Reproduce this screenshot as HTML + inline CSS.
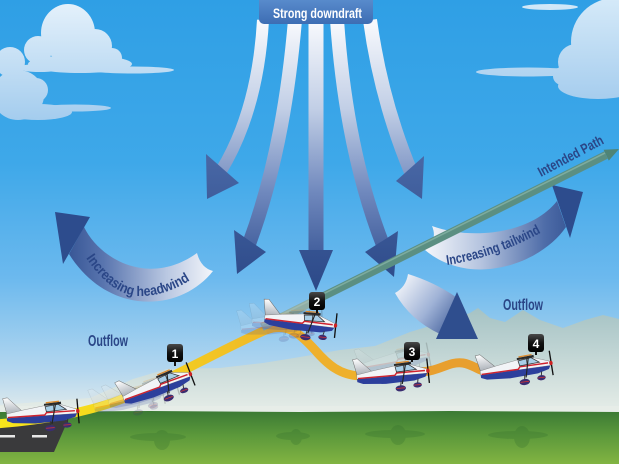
<!DOCTYPE html>
<html><head><meta charset="utf-8"><style>
html,body{margin:0;padding:0;background:#fff;}
svg{display:block;}
text{font-family:"Liberation Sans",sans-serif;}
</style></head><body>
<svg width="619" height="464" viewBox="0 0 619 464" xmlns="http://www.w3.org/2000/svg">
<defs>
<linearGradient id="sky" x1="0" y1="0" x2="0" y2="464" gradientUnits="userSpaceOnUse">
<stop offset="0" stop-color="#2f9fe5"/><stop offset="0.35" stop-color="#3ea8e9"/><stop offset="0.6" stop-color="#6cb9ee"/><stop offset="0.8" stop-color="#b4d7ef"/><stop offset="0.885" stop-color="#e0eaec"/><stop offset="1" stop-color="#e0eaec"/>
</linearGradient>
<linearGradient id="gnd" x1="0" y1="411" x2="0" y2="464" gradientUnits="userSpaceOnUse">
<stop offset="0" stop-color="#3b7a34"/><stop offset="0.45" stop-color="#5b983b"/><stop offset="1" stop-color="#82b442"/>
</linearGradient>
<linearGradient id="mtn" x1="0" y1="305" x2="0" y2="412" gradientUnits="userSpaceOnUse">
<stop offset="0" stop-color="#a3c1c3"/><stop offset="0.5" stop-color="#c4d7d6"/><stop offset="1" stop-color="#e6ede8"/>
</linearGradient>
<linearGradient id="cl1" x1="0" y1="0" x2="0" y2="122" gradientUnits="userSpaceOnUse">
<stop offset="0" stop-color="#e6f2fb"/><stop offset="1" stop-color="#a3ccee"/>
</linearGradient>
<linearGradient id="cl2" x1="0" y1="0" x2="0" y2="100" gradientUnits="userSpaceOnUse">
<stop offset="0" stop-color="#d4e9f8"/><stop offset="1" stop-color="#a6cdee"/>
</linearGradient>
<linearGradient id="shaft" x1="0" y1="24" x2="0" y2="265" gradientUnits="userSpaceOnUse">
<stop offset="0" stop-color="#f6f8fc"/><stop offset="0.35" stop-color="#c2cfe6"/><stop offset="0.7" stop-color="#6f88bd"/><stop offset="1" stop-color="#3a5796"/>
</linearGradient>
<linearGradient id="head" x1="0" y1="150" x2="0" y2="295" gradientUnits="userSpaceOnUse">
<stop offset="0" stop-color="#4a69a7"/><stop offset="1" stop-color="#2b4887"/>
</linearGradient>
<linearGradient id="hw" x1="55" y1="0" x2="215" y2="0" gradientUnits="userSpaceOnUse">
<stop offset="0" stop-color="#2c4b8c"/><stop offset="0.3" stop-color="#5874ae"/><stop offset="0.7" stop-color="#bac8e2"/><stop offset="1" stop-color="#f5f7fb"/>
</linearGradient>
<linearGradient id="tw" x1="425" y1="0" x2="585" y2="0" gradientUnits="userSpaceOnUse">
<stop offset="0" stop-color="#f5f7fb"/><stop offset="0.35" stop-color="#b5c4df"/><stop offset="0.75" stop-color="#4e6ca8"/><stop offset="1" stop-color="#2c4b8c"/>
</linearGradient>
<linearGradient id="sm" x1="398" y1="280" x2="465" y2="330" gradientUnits="userSpaceOnUse">
<stop offset="0" stop-color="#f5f7fb"/><stop offset="0.5" stop-color="#9fb2d6"/><stop offset="1" stop-color="#2c4b8c"/>
</linearGradient>
<linearGradient id="yl" x1="0" y1="0" x2="500" y2="0" gradientUnits="userSpaceOnUse">
<stop offset="0" stop-color="#f8e51c"/><stop offset="0.3" stop-color="#f4d31e"/><stop offset="0.55" stop-color="#efb62a"/><stop offset="1" stop-color="#e89b2c"/>
</linearGradient>
<linearGradient id="fin" x1="0" y1="0" x2="0" y2="1">
<stop offset="0" stop-color="#ffffff"/><stop offset="1" stop-color="#9ba2ab"/>
</linearGradient>
<linearGradient id="lbl" x1="0" y1="0" x2="0" y2="1">
<stop offset="0" stop-color="#5f92d2"/><stop offset="1" stop-color="#3d6db3"/>
</linearGradient>
<linearGradient id="bdg" x1="0" y1="0" x2="0" y2="1">
<stop offset="0" stop-color="#4a4a4a"/><stop offset="0.5" stop-color="#111"/><stop offset="1" stop-color="#000"/>
</linearGradient>
<g id="pl">
 <path d="M1,12 L-3,-8 L2,-8.5 L17,7 Z" fill="url(#fin)" stroke="#666" stroke-width="0.5"/>
 <path d="M0,8.5 L18,5.5 L40,2.5 L55,1.5 L66,5.5 L74,8.5 L74,13 L0,13 Z" fill="#f2f4f7" stroke="#777" stroke-width="0.4"/>
 <path d="M0,13 L74,13 L72,16.5 L60,19.5 L30,20.5 L6,18.5 L0,16 Z" fill="#2c3f9c"/>
 <path d="M1,12.3 L40,12.3 L42,10 L72,10" stroke="#d0222e" stroke-width="1.5" fill="none"/>
 <path d="M41,3.5 L55,2 L63,8 L42,9 Z" fill="#a9cfe8" stroke="#333" stroke-width="0.8"/>
 <line x1="50" y1="2.5" x2="50" y2="9" stroke="#333" stroke-width="0.8"/>
 <path d="M40,0.5 L58,-0.5 L58,2 L40,2.5 Z" fill="#2a2a2a"/>
 <path d="M42,-0.5 L56,-1.1" stroke="#e08a2a" stroke-width="1.3"/>
 <line x1="52" y1="2" x2="47" y2="22" stroke="#222" stroke-width="1.2"/>
 <line x1="46" y1="19" x2="45" y2="25" stroke="#333" stroke-width="1"/>
 <ellipse cx="45" cy="26.5" rx="5.5" ry="3.2" fill="#3a2d70"/>
 <path d="M40.5,26.3 L49.5,26.3" stroke="#d33" stroke-width="0.8"/>
 <line x1="64" y1="18" x2="63" y2="23" stroke="#333" stroke-width="1"/>
 <ellipse cx="63" cy="24.5" rx="4.5" ry="2.7" fill="#3a2d70"/>
 <path d="M59,24.3 L67,24.3" stroke="#d33" stroke-width="0.7"/>
 <line x1="75" y1="-2.5" x2="75.5" y2="23.5" stroke="#111" stroke-width="1.4"/>
 <ellipse cx="75" cy="10.5" rx="1.8" ry="2.2" fill="#c22"/>
</g>
</defs>

<!-- sky -->
<rect x="0" y="0" width="619" height="464" fill="url(#sky)"/>

<!-- clouds -->
<g fill="url(#cl1)">
 <ellipse cx="68" cy="33" rx="27" ry="29"/>
 <circle cx="95" cy="46" r="17"/>
 <circle cx="112" cy="58" r="10"/>
 <circle cx="38" cy="50" r="14"/>
 <ellipse cx="80" cy="64" rx="52" ry="9"/>
 <ellipse cx="132" cy="70" rx="42" ry="3.5"/>
 <circle cx="10" cy="62" r="15"/>
 <ellipse cx="18" cy="95" rx="26" ry="25"/>
 <circle cx="36" cy="90" r="12"/>
 <ellipse cx="38" cy="112" rx="34" ry="8"/>
 <ellipse cx="75" cy="108" rx="36" ry="3.5"/>
 <ellipse cx="40" cy="68" rx="22" ry="4"/>
</g>
<g fill="url(#cl2)">
 <ellipse cx="615" cy="42" rx="44" ry="44"/>
 <circle cx="576" cy="62" r="18"/>
 <circle cx="562" cy="76" r="9"/>
 <ellipse cx="598" cy="86" rx="40" ry="13"/>
 <ellipse cx="528" cy="72" rx="52" ry="4.5"/>
 <ellipse cx="550" cy="7" rx="28" ry="3"/>
</g>

<!-- mountains -->
<path d="M0,405 L90,398 L133,379 L167,369 L220,368 L263,363 L300,357 L340,350 L375,346 L410,332 L450,320 L470,313 L478,308 L490,318 L505,322 L523,310 L540,320 L563,328 L585,320 L603,315 L619,319 L619,413 L0,413 Z" fill="url(#mtn)"/>
<rect x="0" y="406" width="619" height="7" fill="#e7eee9" opacity="0.8"/>

<!-- ground -->
<path d="M0,412 L150,411 L300,412 L450,411 L619,412 L619,464 L0,464 Z" fill="url(#gnd)"/>
<g fill="#2f6a2c" opacity="0.25">
 <ellipse cx="158" cy="437" rx="28" ry="4"/><ellipse cx="162" cy="440" rx="8" ry="10"/>
 <ellipse cx="293" cy="436" rx="17" ry="4"/><ellipse cx="296" cy="437" rx="6" ry="8"/>
 <ellipse cx="395" cy="434" rx="30" ry="4"/><ellipse cx="398" cy="435" rx="8" ry="10"/>
 <ellipse cx="518" cy="435" rx="30" ry="4"/><ellipse cx="522" cy="437" rx="8" ry="11"/>
 <ellipse cx="18" cy="437" rx="20" ry="4"/>
</g>

<!-- runway -->
<path d="M0,420 L68,420 L54,452 L0,452 Z" fill="#3a3a3c"/>
<rect x="0" y="435" width="15" height="2.5" fill="#e8e8e8"/>
<rect x="32" y="435" width="15" height="2.5" fill="#e8e8e8"/>

<!-- downdraft arrows -->
<g fill="none" stroke="url(#shaft)" stroke-width="14">
 <path d="M263,20 Q258,110 221,171" stroke-width="12"/>
 <path d="M295,20 Q284,150 249,244"/>
 <path d="M316,20 L316,254" stroke-width="15"/>
 <path d="M337,20 Q346,150 383,245"/>
 <path d="M370,20 Q381,100 411,172"/>
</g>
<g fill="url(#head)">
 <polygon points="206,154 239,183 207,199"/>
 <polygon points="234,230 266,252 237,274"/>
 <polygon points="299,250 333,250 316,291"/>
 <polygon points="365,252 398,231 394,277"/>
 <polygon points="396,181 424,156 422,199"/>
</g>

<!-- headwind arrow -->
<path d="M84,227 C100,260 150,287 197,253 Q201,268 213,271 C180,313 108,316 69,254 Z" fill="url(#hw)"/>
<polygon points="55,212 90,217 63,264" fill="#2d4c8d"/>
<!-- tailwind arrow -->
<path d="M432,226 C470,240 530,235 557,201 L566,227 C540,265 470,288 425,250 Q438,240 432,226 Z" fill="url(#tw)"/>
<polygon points="552,185 583,192 570,238" fill="#2d4c8d"/>
<!-- small outflow arrow -->
<path d="M408,274 Q434,282 456,297 L440,334 Q410,320 395,293 Q406,287 408,274 Z" fill="url(#sm)"/>
<polygon points="457,292 436,339 478,339" fill="#2f4e8e"/>

<!-- arrow texts -->
<path id="hwp" d="M86,258 Q112,296 140,296 Q168,296 195,277" fill="none"/>
<text font-size="14" font-weight="bold" fill="#2a4687"><textPath href="#hwp" textLength="122" lengthAdjust="spacingAndGlyphs">Increasing headwind</textPath></text>
<path id="twp" d="M447,265 Q495,258 544,231" fill="none"/>
<text font-size="14" font-weight="bold" fill="#2a4687"><textPath href="#twp" textLength="100" lengthAdjust="spacingAndGlyphs">Increasing tailwind</textPath></text>

<!-- flight path -->
<path d="M-5,424 C40,421 90,412 125,398 C165,382 220,350 268,329" fill="none" stroke="url(#yl)" stroke-width="9"/>
<path d="M266,330 C288,322 300,334 315,350 C328,365 340,375 360,376" fill="none" stroke="#eeb02c" stroke-width="9"/>
<path d="M418,372 C440,372 448,361 463,363 C475,365 478,372 492,372" fill="none" stroke="#e89f2e" stroke-width="9"/>

<!-- intended path -->
<line x1="262" y1="327" x2="606" y2="155" stroke="#5b8f82" stroke-width="8"/>
<line x1="262" y1="324.5" x2="606" y2="152.5" stroke="#86b3a5" stroke-width="1.6" opacity="0.8"/>
<line x1="262" y1="327" x2="320" y2="298" stroke="#b3c4be" stroke-width="8" opacity="0.6"/>
<polygon points="619,149 603.6,149.8 608.8,160.6" fill="#4f8476"/>
<text font-size="14" font-weight="bold" fill="#2a4687" transform="translate(541,177) rotate(-28)" textLength="72" lengthAdjust="spacingAndGlyphs">Intended Path</text>

<!-- ghost planes -->
<use href="#pl" transform="translate(92,397) rotate(-12) scale(0.93)" opacity="0.18"/>
<use href="#pl" transform="translate(106,393) rotate(-16) scale(0.93)" opacity="0.2"/>
<use href="#pl" transform="translate(240,318) rotate(-5) scale(0.93)" opacity="0.16"/>
<use href="#pl" transform="translate(252,311) rotate(0) scale(0.93)" opacity="0.2"/>
<use href="#pl" transform="translate(358,357) rotate(-10) scale(0.93)" opacity="0.15"/>

<!-- planes -->
<use href="#pl" transform="translate(6,406) rotate(-4) scale(0.95)"/>
<use href="#pl" transform="translate(120,389) rotate(-20) scale(0.95)"/>
<use href="#pl" transform="translate(266,307) rotate(7) scale(0.95)"/>
<use href="#pl" transform="translate(356,367) rotate(-5) scale(0.95)"/>
<use href="#pl" transform="translate(479,363) rotate(-8) scale(0.95)"/>

<!-- badges -->
<g font-size="12" font-weight="bold" fill="#fff" text-anchor="middle">
 <line x1="175" y1="360" x2="175" y2="366" stroke="#111" stroke-width="2"/>
 <rect x="167" y="344" width="16" height="18" rx="3" fill="url(#bdg)"/>
 <text x="175" y="358">1</text>
 <line x1="317" y1="308" x2="317" y2="313" stroke="#111" stroke-width="2"/>
 <rect x="309" y="292" width="16" height="18" rx="3" fill="url(#bdg)"/>
 <text x="317" y="306">2</text>
 <line x1="412" y1="358" x2="412" y2="362" stroke="#111" stroke-width="2"/>
 <rect x="404" y="342" width="16" height="18" rx="3" fill="url(#bdg)"/>
 <text x="412" y="356">3</text>
 <line x1="536" y1="350" x2="536" y2="355" stroke="#111" stroke-width="2"/>
 <rect x="528" y="334" width="16" height="18" rx="3" fill="url(#bdg)"/>
 <text x="536" y="348">4</text>
</g>

<!-- labels -->
<text x="88" y="346" font-size="16" font-weight="bold" fill="#2a4687" textLength="40" lengthAdjust="spacingAndGlyphs">Outflow</text>
<text x="503" y="310" font-size="16" font-weight="bold" fill="#2a4687" textLength="40" lengthAdjust="spacingAndGlyphs">Outflow</text>
<rect x="259" y="-6" width="114" height="30" rx="5" fill="url(#lbl)"/>
<text x="273" y="18" font-size="14" font-weight="bold" fill="#ffffff" textLength="89" lengthAdjust="spacingAndGlyphs">Strong downdraft</text>
</svg>
</body></html>
